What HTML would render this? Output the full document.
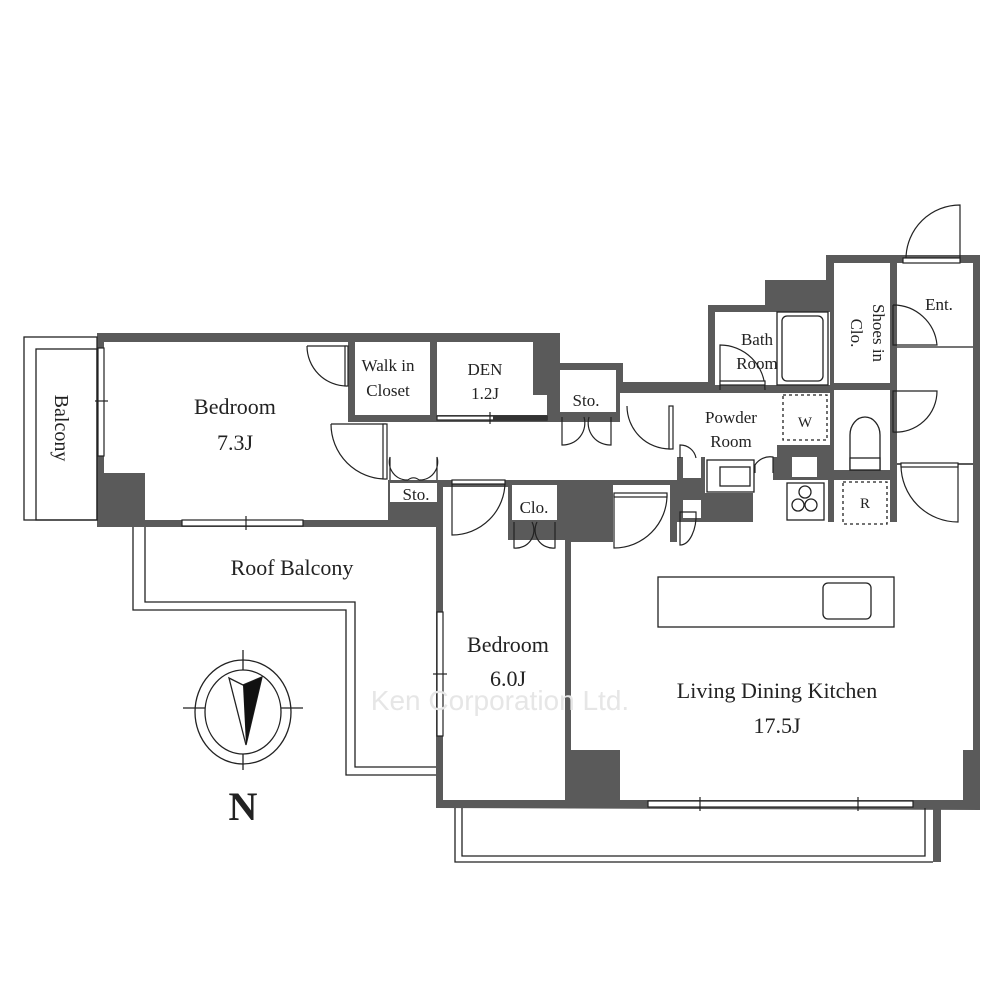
<!DOCTYPE html>
<html><head><meta charset="utf-8"><style>
html,body{margin:0;padding:0;background:#fff;}
svg{display:block;}
text{font-family:"Liberation Serif",serif;fill:#222;}
</style></head><body>
<svg width="1000" height="1000" viewBox="0 0 1000 1000" xmlns="http://www.w3.org/2000/svg">
<polygon fill="#5a5a5a" points="97,333 560,333 560,363 623,363 623,382 708,382 708,305 765,305 765,280 826,280 826,255 980,255 980,810 436,808 436,527 97,527"/>
<g fill="#fff">
<rect x="104" y="342" width="244" height="131"/>
<rect x="145" y="473" width="240" height="47"/>
<rect x="348" y="422" width="40" height="98"/>
<rect x="355" y="342" width="75" height="73"/>
<rect x="437" y="342" width="96" height="73"/>
<rect x="437" y="395" width="110" height="20"/>
<rect x="385" y="422" width="292" height="58"/>
<rect x="620" y="393" width="57" height="30"/>
<rect x="560" y="370" width="56" height="42"/>
<rect x="715" y="312" width="115" height="73"/>
<rect x="834" y="263" width="56" height="120"/>
<rect x="897" y="263" width="76" height="200"/>
<rect x="834" y="390" width="56" height="80"/>
<rect x="677" y="393" width="153" height="52"/>
<rect x="677" y="445" width="100" height="12"/>
<rect x="705" y="457" width="68" height="36"/>
<rect x="683" y="457" width="18" height="21"/>
<rect x="683" y="500" width="18" height="18"/>
<rect x="744" y="457" width="20" height="20"/>
<rect x="792" y="457" width="25" height="20"/>
<rect x="753" y="480" width="75" height="42"/>
<rect x="834" y="480" width="56" height="42"/>
<rect x="390" y="483" width="47" height="19"/>
<rect x="443" y="487" width="65" height="53"/>
<rect x="443" y="540" width="122" height="260"/>
<rect x="512" y="485" width="45" height="35"/>
<rect x="571" y="542" width="392" height="208"/>
<rect x="620" y="750" width="343" height="50"/>
<rect x="613" y="485" width="57" height="60"/>
<rect x="677" y="522" width="220" height="23"/>
<rect x="897" y="465" width="76" height="285"/>
<rect x="571" y="542" width="50" height="208"/>
</g>
<g fill="none" stroke="#222" stroke-width="1.3">
<rect x="24" y="337" width="73" height="183"/>
<rect x="36" y="349" width="61" height="171"/>
<polyline points="133,527 133,610 346,610 346,775 436,775"/>
<polyline points="145,527 145,602 355,602 355,767 436,767"/>
<polyline points="455,808 455,862 933,862"/>
<polyline points="462,808 462,856 925,856 925,808"/>
</g>
<rect x="933" y="808" width="8" height="54" fill="#5a5a5a"/>
<g fill="#fff" stroke="#222" stroke-width="1.2">
<rect x="98" y="348" width="6" height="108"/>
<rect x="182" y="520" width="121" height="6"/>
<rect x="437" y="612" width="6" height="124"/>
<rect x="648" y="801" width="265" height="6"/>
<rect x="437" y="416" width="110" height="4"/>
</g>
<rect x="493" y="416" width="54" height="4" fill="#333"/>
<g stroke="#222" stroke-width="1.2" fill="none">
<line x1="95" y1="401" x2="108" y2="401"/><line x1="246" y1="516" x2="246" y2="530"/>
<line x1="433" y1="674" x2="447" y2="674"/><line x1="700" y1="797" x2="700" y2="811"/>
<line x1="858" y1="797" x2="858" y2="811"/><line x1="490" y1="412" x2="490" y2="424"/>
</g>
<g stroke="#222" stroke-width="1.2" fill="none">
<path d="M307,346 A40,40 0 0 0 347,386 M347,346 L307,346"/><rect x="345" y="346" width="3" height="40" fill="#fff"/>
<path d="M331,424 A55,55 0 0 0 386,479 M386,424 L331,424"/><rect x="383" y="424" width="4" height="55" fill="#fff"/>
<path d="M390,480 L390,457 A18,18 0 0 0 408,480 M437,480 L437,457 A18,18 0 0 1 419,480 M408,480 A8,8 0 0 1 419,480"/>
<path d="M562,417 L562,445 A22,22 0 0 0 584,417 M611,417 L611,445 A22,22 0 0 1 589,417"/>
<path d="M514,522 L514,548 A18,18 0 0 0 532,522 M555,522 L555,548 A18,18 0 0 1 537,522"/>
<path d="M452,482 L505,482 A53,53 0 0 1 452,535 Z"/><rect x="452" y="480" width="53" height="4" fill="#fff"/>
<path d="M614,495 L667,495 A53,53 0 0 1 614,548 Z"/><rect x="614" y="493" width="53" height="4" fill="#fff"/>
<path d="M627,406 A43,43 0 0 0 670,449 L670,406"/><rect x="669" y="406" width="4" height="43" fill="#fff"/>
<path d="M680,458 L680,445 A16,16 0 0 1 696,458"/><path d="M680,512 L696,512 A16,30 0 0 1 680,545 Z"/>
<path d="M720,390 L720,345 A45,45 0 0 1 765,390"/><rect x="720" y="381" width="45" height="4" fill="#fff"/>
<path d="M755,473 L755,465 A18,18 0 0 1 773,457 L773,473"/>
<path d="M906,258 A54,54 0 0 1 960,205 L960,262"/><rect x="903" y="258" width="57" height="5" fill="#fff"/>
<path d="M893,305 L893,345 L937,345 A44,44 0 0 0 893,305"/>
<path d="M893,391 L937,391 A41,41 0 0 1 893,432 Z"/>
<path d="M901,465 L958,465 L958,522 A57,57 0 0 1 901,465"/><rect x="901" y="463" width="57" height="4" fill="#fff"/>
<line x1="897" y1="347" x2="973" y2="347"/>
</g>
<g stroke="#222" stroke-width="1.3" fill="none">
<rect x="777" y="312" width="51" height="73"/><rect x="782" y="316" width="41" height="65" rx="5"/>
<rect x="783" y="395" width="44" height="45" stroke-dasharray="3,3"/>
<rect x="843" y="482" width="44" height="42" stroke-dasharray="3,3"/>
<path d="M850,470 L850,435 A15,18 0 0 1 880,435 L880,470 Z"/><rect x="850" y="458" width="30" height="12" fill="#fff"/>
<rect x="707" y="460" width="47" height="32"/><rect x="720" y="467" width="30" height="19"/>
<rect x="787" y="483" width="37" height="37"/><circle cx="805" cy="492" r="6"/><circle cx="798" cy="505" r="6"/><circle cx="811" cy="505" r="6"/>
<rect x="658" y="577" width="236" height="50"/><rect x="823" y="583" width="48" height="36" rx="5"/>
</g>
<g stroke="#222" stroke-width="1.3" fill="none">
<ellipse cx="243" cy="712" rx="48" ry="52"/><ellipse cx="243" cy="712" rx="38" ry="42"/>
<line x1="243" y1="650" x2="243" y2="670"/><line x1="243" y1="754" x2="243" y2="770"/>
<line x1="183" y1="708" x2="205" y2="708"/><line x1="281" y1="708" x2="303" y2="708"/>
<path d="M229,678 L243,685 L262,677 L246,745 Z"/>
</g>
<path d="M243,685 L262,677 L246,745 Z" fill="#111"/>
<g font-size="22" text-anchor="middle">
<text x="235" y="414">Bedroom</text><text x="235" y="450">7.3J</text>
<text x="508" y="652">Bedroom</text><text x="508" y="686">6.0J</text>
<text x="777" y="698">Living Dining Kitchen</text><text x="777" y="733">17.5J</text>
<text x="292" y="575">Roof Balcony</text>
</g>
<g font-size="17" text-anchor="middle">
<text x="388" y="371">Walk in</text><text x="388" y="396">Closet</text>
<text x="485" y="375">DEN</text><text x="485" y="399">1.2J</text>
<text x="586" y="406">Sto.</text><text x="416" y="500">Sto.</text><text x="534" y="513">Clo.</text>
<text x="757" y="345">Bath</text><text x="757" y="369">Room</text>
<text x="731" y="423">Powder</text><text x="731" y="447">Room</text>
<text x="939" y="310">Ent.</text>
<text x="805" y="427" font-size="15">W</text><text x="865" y="508" font-size="15">R</text>
</g>
<text transform="translate(55,428) rotate(90)" font-size="20" text-anchor="middle">Balcony</text>
<text transform="translate(873,333) rotate(90)" font-size="17" text-anchor="middle">Shoes in</text>
<text transform="translate(851,333) rotate(90)" font-size="17" text-anchor="middle">Clo.</text>
<text x="243" y="820" font-size="40" font-weight="bold" text-anchor="middle">N</text>
<text x="500" y="710" font-size="28" text-anchor="middle" style="fill:#e6e6e6;font-family:'Liberation Sans',sans-serif">Ken Corporation Ltd.</text>
</svg>
</body></html>
